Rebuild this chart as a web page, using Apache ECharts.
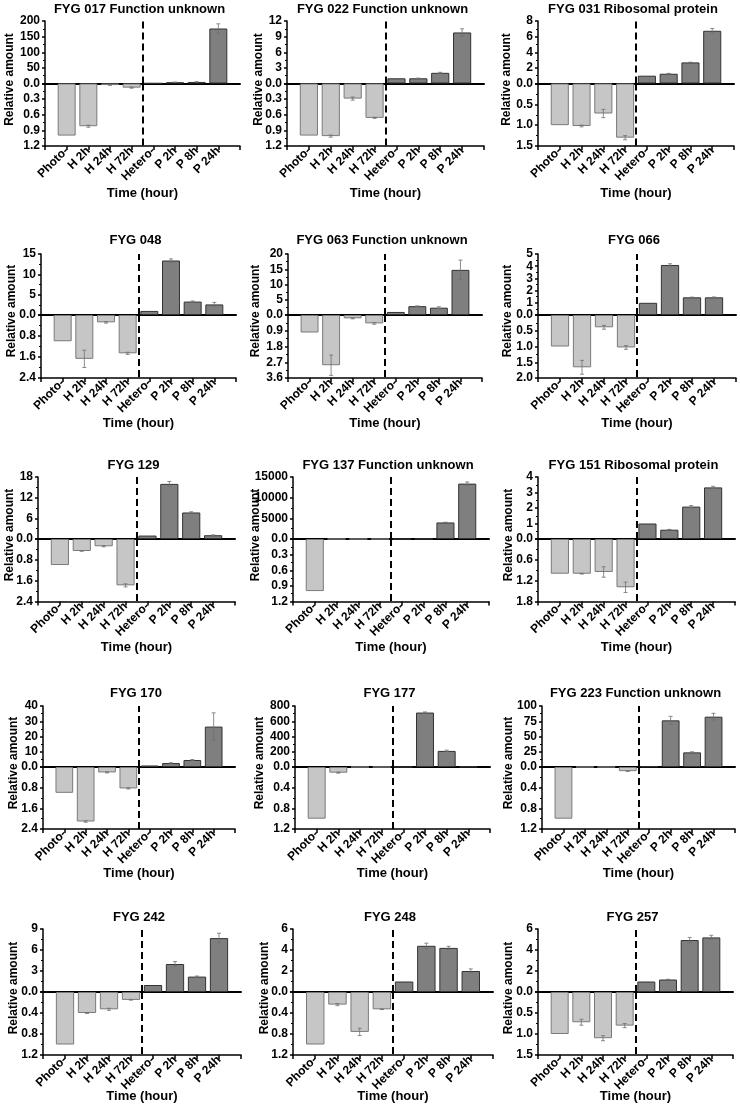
<!DOCTYPE html>
<html><head><meta charset="utf-8">
<script src="https://cdn.jsdelivr.net/npm/echarts@6/dist/echarts.min.js"></script>
<style>html,body{margin:0;padding:0;background:#fff}#c{width:740px;height:1113px}</style>
</head><body><div id="c"></div>
<script>
// ---------- DATA ----------
const categories = ['Photo-', 'H 2h', 'H 24h', 'H 72h', 'Hetero-', 'P 2h', 'P 8h', 'P 24h'];
const titles = ['FYG 017 Function unknown', 'FYG 022 Function unknown', 'FYG 031 Ribosomal protein',
  'FYG 048', 'FYG 063 Function unknown', 'FYG 066',
  'FYG 129', 'FYG 137 Function unknown', 'FYG 151 Ribosomal protein',
  'FYG 170', 'FYG 177', 'FYG 223 Function unknown',
  'FYG 242', 'FYG 248', 'FYG 257'];
const yTitle = 'Relative amount';
const xTitle = 'Time (hour)';

// H phase (lower, inverted axis) and P phase (upper axis) values and errors
const fyg017_H = [1.0, 0.82, 0.03, 0.08];   const fyg017_Herr = [0, 0.02, 0.005, 0.01];
const fyg017_P = [1.0, 4, 5, 176];          const fyg017_Perr = [0, 0.5, 0.5, 15];
const fyg022_H = [1.0, 1.01, 0.29, 0.66];   const fyg022_Herr = [0, 0.02, 0.03, 0.01];
const fyg022_P = [1.0, 1.0, 2.05, 9.8];     const fyg022_Perr = [0, 0.03, 0.1, 0.7];
const fyg031_H = [1.0, 1.02, 0.72, 1.30];   const fyg031_Herr = [0, 0.02, 0.1, 0.05];
const fyg031_P = [1.0, 1.25, 2.7, 6.75];    const fyg031_Perr = [0, 0.05, 0.03, 0.3];
const fyg048_H = [1.0, 1.67, 0.28, 1.46];   const fyg048_Herr = [0, 0.33, 0.03, 0.04];
const fyg048_P = [1.0, 13.4, 3.3, 2.6];     const fyg048_Perr = [0, 0.4, 0.15, 0.5];
const fyg063_H = [1.0, 2.87, 0.19, 0.48];   const fyg063_Herr = [0, 0.58, 0.03, 0.05];
const fyg063_P = [1.0, 2.9, 2.4, 14.8];     const fyg063_Perr = [0, 0.1, 0.3, 3.2];
const fyg066_H = [1.0, 1.66, 0.39, 1.03];   const fyg066_Herr = [0, 0.22, 0.06, 0.06];
const fyg066_P = [1.0, 4.1, 1.45, 1.45];    const fyg066_Perr = [0, 0.1, 0.02, 0.03];
const fyg129_H = [1.0, 0.46, 0.28, 1.78];   const fyg129_Herr = [0, 0.01, 0.02, 0.06];
const fyg129_P = [1.0, 16.0, 7.7, 1.1];     const fyg129_Perr = [0, 0.7, 0.2, 0.1];
const fyg137_H = [1.0, 0, 0, 0];            const fyg137_Herr = [0, 0, 0, 0];
const fyg137_P = [1.0, 30, 4000, 13400];    const fyg137_Perr = [0, 0, 50, 400];
const fyg151_H = [1.0, 1.0, 0.95, 1.39];    const fyg151_Herr = [0, 0.01, 0.15, 0.15];
const fyg151_P = [1.0, 0.6, 2.09, 3.33];    const fyg151_Perr = [0, 0.02, 0.07, 0.07];
const fyg170_H = [1.0, 2.11, 0.21, 0.83];   const fyg170_Herr = [0, 0.03, 0.02, 0.02];
const fyg170_P = [1.0, 2.6, 4.6, 26.5];     const fyg170_Perr = [0, 0.2, 0.3, 9];
const fyg177_H = [1.0, 0.11, 0, 0];         const fyg177_Herr = [0, 0.01, 0, 0];
const fyg177_P = [1.0, 714, 211, 4];        const fyg177_Perr = [0, 8, 10, 0];
const fyg223_H = [1.0, 0, 0, 0.08];         const fyg223_Herr = [0, 0, 0, 0.005];
const fyg223_P = [1.0, 76.5, 24, 82.5];     const fyg223_Perr = [0, 6.5, 1, 5.5];
const fyg242_H = [1.0, 0.40, 0.33, 0.15];   const fyg242_Herr = [0, 0.01, 0.02, 0.005];
const fyg242_P = [1.0, 4.0, 2.2, 7.7];      const fyg242_Perr = [0, 0.35, 0.08, 0.7];
const fyg248_H = [1.0, 0.24, 0.76, 0.33];   const fyg248_Herr = [0, 0.02, 0.07, 0.005];
const fyg248_P = [1.0, 4.4, 4.2, 2.0];      const fyg248_Perr = [0, 0.25, 0.15, 0.2];
const fyg257_H = [1.0, 0.72, 1.10, 0.80];   const fyg257_Herr = [0, 0.07, 0.06, 0.05];
const fyg257_P = [1.0, 1.19, 4.95, 5.2];    const fyg257_Perr = [0, 0.02, 0.25, 0.2];

// axis scales (tick labels)
const upMax    = [200, 12, 8, 15, 20, 5, 18, 15000, 4, 40, 800, 100, 9, 6, 6];
const upStep   = [50, 3, 2, 5, 5, 1, 6, 5000, 1, 10, 200, 25, 3, 2, 2];
const downMax  = [1.2, 1.2, 1.5, 2.4, 3.6, 2.0, 2.4, 1.2, 1.8, 2.4, 1.2, 1.2, 1.2, 1.2, 1.5];
const downStep = [0.3, 0.3, 0.5, 0.8, 0.9, 0.5, 0.8, 0.3, 0.6, 0.8, 0.4, 0.4, 0.4, 0.4, 0.5];

// ---------- BUILD ----------
const Hvals = [fyg017_H, fyg022_H, fyg031_H, fyg048_H, fyg063_H, fyg066_H, fyg129_H, fyg137_H, fyg151_H, fyg170_H, fyg177_H, fyg223_H, fyg242_H, fyg248_H, fyg257_H];
const Herrs = [fyg017_Herr, fyg022_Herr, fyg031_Herr, fyg048_Herr, fyg063_Herr, fyg066_Herr, fyg129_Herr, fyg137_Herr, fyg151_Herr, fyg170_Herr, fyg177_Herr, fyg223_Herr, fyg242_Herr, fyg248_Herr, fyg257_Herr];
const Pvals = [fyg017_P, fyg022_P, fyg031_P, fyg048_P, fyg063_P, fyg066_P, fyg129_P, fyg137_P, fyg151_P, fyg170_P, fyg177_P, fyg223_P, fyg242_P, fyg248_P, fyg257_P];
const Perrs = [fyg017_Perr, fyg022_Perr, fyg031_Perr, fyg048_Perr, fyg063_Perr, fyg066_Perr, fyg129_Perr, fyg137_Perr, fyg151_Perr, fyg170_Perr, fyg177_Perr, fyg223_Perr, fyg242_Perr, fyg248_Perr, fyg257_Perr];

// layout
const panelLeft  = [45, 287, 538, 41, 288, 538, 38, 293, 538, 43, 295, 542, 43, 293, 538];
const panelWidth = [195, 197, 196, 195, 194, 198, 197, 196, 197, 192, 195, 193, 198, 200, 195];
const rowTop  = [21, 254, 477, 706, 929];
const rowZero = [83.5, 315, 539, 767, 992];
const rowBot  = [146, 378, 601.5, 829, 1055];
const titleY  = [9, 240, 465, 693, 917];
const xNameY  = [193, 423, 647, 873, 1096];
const yNameX  = [10, 259, 507, 12, 256, 507.5, 10, 256, 509, 13.5, 260, 509, 14, 265, 508.5];

const FONT = 'Liberation Sans';
const black = '#000';
const grid = [], xAxis = [], yAxis = [], series = [], graphic = [];

function errRender(params, api) {
  const x = api.value(0), v = api.value(1), e = api.value(2);
  const a = api.coord([x, v + e]), b = api.coord([x, v - e]);
  const st = { stroke: '#707070', lineWidth: 0.8, fill: null };
  return { type: 'group', children: [
    { type: 'line', shape: { x1: a[0], y1: a[1], x2: b[0], y2: b[1] }, style: st },
    { type: 'line', shape: { x1: a[0] - 2, y1: a[1], x2: a[0] + 2, y2: a[1] }, style: st },
    { type: 'line', shape: { x1: b[0] - 2, y1: b[1], x2: b[0] + 2, y2: b[1] }, style: st }
  ]};
}

const dashLine = {
  silent: true, symbol: 'none', label: { show: false },
  lineStyle: { color: black, type: [7, 4], width: 2 },
  emphasis: { disabled: true },
  data: [{ xAxis: 4.5 }]
};

titles.forEach((t, i) => {
  const r = Math.floor(i / 3);
  const L = panelLeft[i], W = panelWidth[i];
  const gu = grid.length, gd = gu + 1;
  grid.push({ left: L, top: rowTop[r], width: W, height: rowZero[r] - rowTop[r] });
  grid.push({ left: L, top: rowZero[r], width: W, height: rowBot[r] - rowZero[r] });
  const barW = W / 9 * 0.83;
  const lbl = { fontFamily: FONT, fontWeight: 'bold', fontSize: 12, color: black };

  xAxis.push({ gridIndex: gu, type: 'value', min: 0, max: 9, interval: 1,
    axisLine: { show: true, onZero: false, lineStyle: { color: black, width: 2 } },
    axisTick: { show: false }, axisLabel: { show: false }, splitLine: { show: false } });
  xAxis.push({ gridIndex: gd, type: 'value', min: 0, max: 9, interval: 1, position: 'bottom',
    axisLine: { show: true, onZero: false, lineStyle: { color: black, width: 1.5 } },
    axisTick: { show: true, length: 4, lineStyle: { color: black, width: 1.5 } },
    axisLabel: Object.assign({ rotate: 45, margin: 3, showMinLabel: true, showMaxLabel: true, hideOverlap: false,
      formatter: v => categories[v - 1] || '' }, lbl),
    splitLine: { show: false } });

  yAxis.push({ gridIndex: gu, type: 'value', min: 0, max: upMax[i], interval: upStep[i],
    axisLine: { show: true, lineStyle: { color: black, width: 1.5 } },
    axisTick: { show: true, length: 3, lineStyle: { color: black, width: 1.5 } },
    minorTick: { show: true, splitNumber: 2, length: 2, lineStyle: { color: black, width: 1 } },
    axisLabel: Object.assign({ margin: 5, formatter: v => v === 0 ? '0.0' : String(v) }, lbl),
    splitLine: { show: false }, minorSplitLine: { show: false } });
  yAxis.push({ gridIndex: gd, type: 'value', inverse: true, min: 0, max: downMax[i], interval: downStep[i],
    axisLine: { show: true, lineStyle: { color: black, width: 1.5 } },
    axisTick: { show: true, length: 3, lineStyle: { color: black, width: 1.5 } },
    minorTick: { show: true, splitNumber: 2, length: 2, lineStyle: { color: black, width: 1 } },
    axisLabel: Object.assign({ margin: 5, showMinLabel: false, formatter: v => v.toFixed(1) }, lbl),
    splitLine: { show: false }, minorSplitLine: { show: false } });

  series.push({ type: 'bar', xAxisIndex: gu, yAxisIndex: gu, barWidth: barW,
    data: Pvals[i].map((v, k) => [k + 5, v]),
    itemStyle: { color: '#7f7f7f', borderColor: '#333', borderWidth: 1 },
    markLine: dashLine, z: 2 });
  series.push({ type: 'bar', xAxisIndex: gd, yAxisIndex: gd, barWidth: barW,
    data: Hvals[i].map((v, k) => [k + 1, v]),
    itemStyle: { color: '#c6c6c6', borderColor: '#7a7a7a', borderWidth: 1 },
    markLine: dashLine, z: 2 });
  series.push({ type: 'custom', xAxisIndex: gu, yAxisIndex: gu, renderItem: errRender, z: 3,
    data: Pvals[i].map((v, k) => [k + 5, v, Perrs[i][k]]).filter(d => d[2] > 0) });
  series.push({ type: 'custom', xAxisIndex: gd, yAxisIndex: gd, renderItem: errRender, z: 3,
    data: Hvals[i].map((v, k) => [k + 1, v, Herrs[i][k]]).filter(d => d[2] > 0) });

  const txt = (s, size) => ({ text: s, fontFamily: FONT, fontWeight: 'bold', fontSize: size, fill: black,
    align: 'center', verticalAlign: 'middle' });
  graphic.push({ type: 'text', x: L + W / 2 - 3, y: titleY[r], style: txt(t, 13) });
  graphic.push({ type: 'text', x: L + W / 2, y: xNameY[r], style: txt(xTitle, 13) });
  graphic.push({ type: 'text', x: yNameX[i], y: rowZero[r] - 4, rotation: Math.PI / 2, style: txt(yTitle, 12) });
});

const chart = echarts.init(document.getElementById('c'));
chart.setOption({ animation: false, backgroundColor: '#fff', grid, xAxis, yAxis, series, graphic });
</script>
</body></html>
